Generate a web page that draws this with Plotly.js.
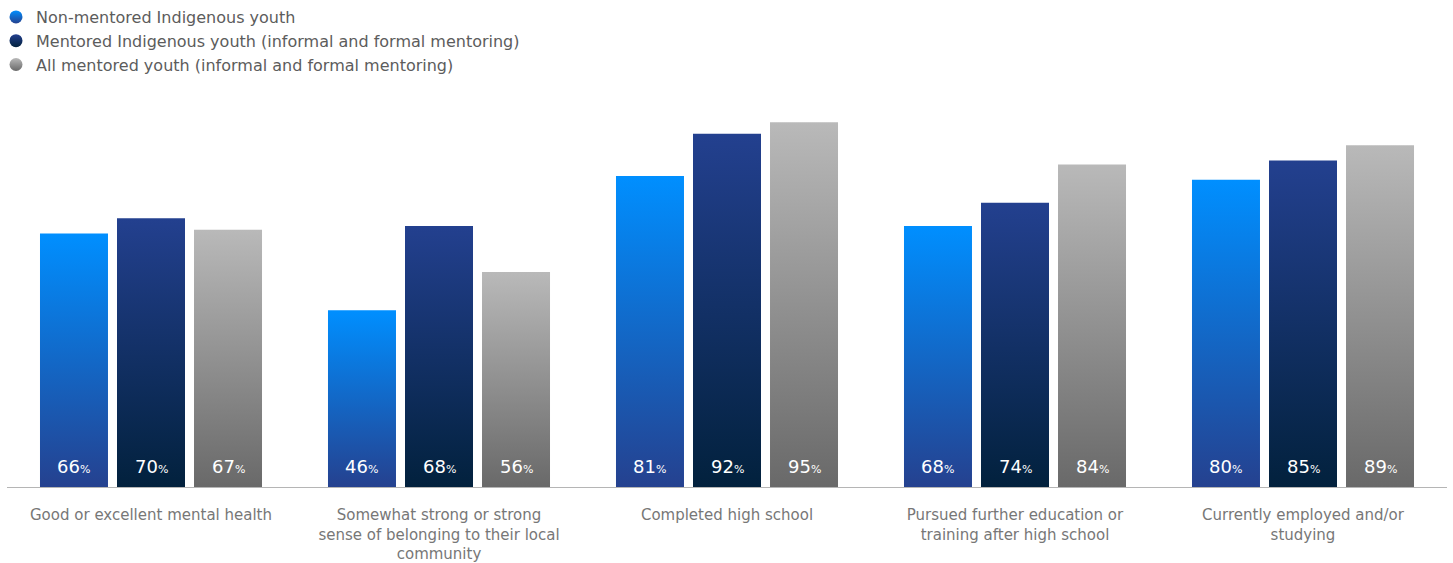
<!DOCTYPE html>
<html>
<head>
<meta charset="utf-8">
<script src="https://cdn.plot.ly/plotly-3.0.1.min.js"></script>
<style>html,body{margin:0;padding:0;background:#fff;}#chart{width:1453px;height:563px;}</style>
</head>
<body>
<div id="chart"></div>
<script>
// ---- data ----
const categories = [
  "Good or excellent mental health",
  "Somewhat strong or strong<br>sense of belonging to their local<br>community",
  "Completed high school",
  "Pursued further education or<br>training after high school",
  "Currently employed and/or<br>studying"
];
const seriesNames = [
  "Non-mentored Indigenous youth",
  "Mentored Indigenous youth (informal and formal mentoring)",
  "All mentored youth (informal and formal mentoring)"
];
const nonMentoredIndigenous = [66, 46, 81, 68, 80];
const mentoredIndigenous   = [70, 68, 92, 74, 85];
const allMentored          = [67, 56, 95, 84, 89];

// ---- styling ----
const gradients = [
  {id: "gBlue", top: "#008FFF", bottom: "#25418F", legend: "#0A82F0"},
  {id: "gNavy", top: "#23408F", bottom: "#02213D", legend: "#122F68"},
  {id: "gGrey", top: "#B9B9B9", bottom: "#696969", legend: "#8F8F8F"}
];
const barWidth = 0.2361;
const centerShift = [-0.2674, 0, 0.2674];
const allSeries = [nonMentoredIndigenous, mentoredIndigenous, allMentored];
const FONT = "DejaVu Sans, Open Sans, sans-serif";

const traces = [];
allSeries.forEach((vals, k) => {
  traces.push({
    type: "bar",
    x: categories,
    y: vals,
    width: barWidth,
    offset: centerShift[k] - barWidth / 2,
    marker: {color: gradients[k].legend, line: {width: 0}},
    showlegend: false,
    hoverinfo: "skip"
  });
});
allSeries.forEach((vals, k) => {
  traces.push({
    type: "scatter",
    mode: "markers",
    x: [null],
    y: [null],
    name: seriesNames[k],
    legendgroup: "g" + k,
    marker: {size: 13, color: gradients[k].legend, symbol: "circle"},
    hoverinfo: "skip"
  });
});

const annotations = [];
allSeries.forEach((vals, k) => {
  vals.forEach((v, i) => {
    annotations.push({
      x: i + centerShift[k],
      y: 0,
      xref: "x",
      yref: "y",
      yanchor: "bottom",
      yshift: 8,
      showarrow: false,
      text: v + '<span style="font-size:11px">%</span>',
      font: {family: FONT, size: 18, color: "#ffffff", weight: 500}
    });
  });
});

const layout = {
  width: 1453,
  height: 563,
  margin: {l: 7, r: 6, t: 103, b: 76, autoexpand: false},
  paper_bgcolor: "#ffffff",
  plot_bgcolor: "#ffffff",
  barmode: "overlay",
  showlegend: true,
  legend: {
    xref: "container", yref: "container",
    x: 0, y: 1, xanchor: "left", yanchor: "top",
    orientation: "v",
    indentation: -4,
    tracegroupgap: 0,
    font: {family: FONT, size: 16, color: "#5c5c5c"},
    bgcolor: "rgba(0,0,0,0)"
  },
  xaxis: {
    type: "category",
    range: [-0.5, 4.5],
    showline: true,
    linecolor: "#b5b5b5",
    linewidth: 1,
    showgrid: false,
    zeroline: false,
    ticks: "",
    tickangle: 0,
    automargin: false,
    ticklabelstandoff: 14,
    tickfont: {family: FONT, size: 15, color: "#777777"},
    fixedrange: true
  },
  yaxis: {
    range: [0, 100],
    visible: false,
    showgrid: false,
    zeroline: false,
    fixedrange: true
  },
  annotations: annotations,
  font: {family: FONT}
};

const gd = document.getElementById("chart");
Plotly.newPlot(gd, traces, layout, {staticPlot: true, displayModeBar: false}).then(() => {
  const NS = "http://www.w3.org/2000/svg";
  const svg = gd.querySelector("svg.main-svg");
  let defs = svg.querySelector("defs");
  if (!defs) { defs = document.createElementNS(NS, "defs"); svg.insertBefore(defs, svg.firstChild); }
  gradients.forEach(g => {
    const lg = document.createElementNS(NS, "linearGradient");
    lg.setAttribute("id", g.id);
    lg.setAttribute("x1", "0"); lg.setAttribute("y1", "0");
    lg.setAttribute("x2", "0"); lg.setAttribute("y2", "1");
    [["0", g.top], ["1", g.bottom]].forEach(([o, c]) => {
      const s = document.createElementNS(NS, "stop");
      s.setAttribute("offset", o); s.setAttribute("stop-color", c);
      lg.appendChild(s);
    });
    defs.appendChild(lg);
  });
  const barTraces = gd.querySelectorAll(".barlayer .trace");
  barTraces.forEach((t, k) => {
    t.querySelectorAll("path").forEach(p => { p.style.fill = "url(#" + gradients[k].id + ")"; });
  });
  const legendItems = gd.querySelectorAll(".legend .traces");
  legendItems.forEach((t, k) => {
    t.querySelectorAll(".legendpoints path").forEach(p => { p.style.fill = "url(#" + gradients[k].id + ")"; });
  });
});
</script>
</body>
</html>
